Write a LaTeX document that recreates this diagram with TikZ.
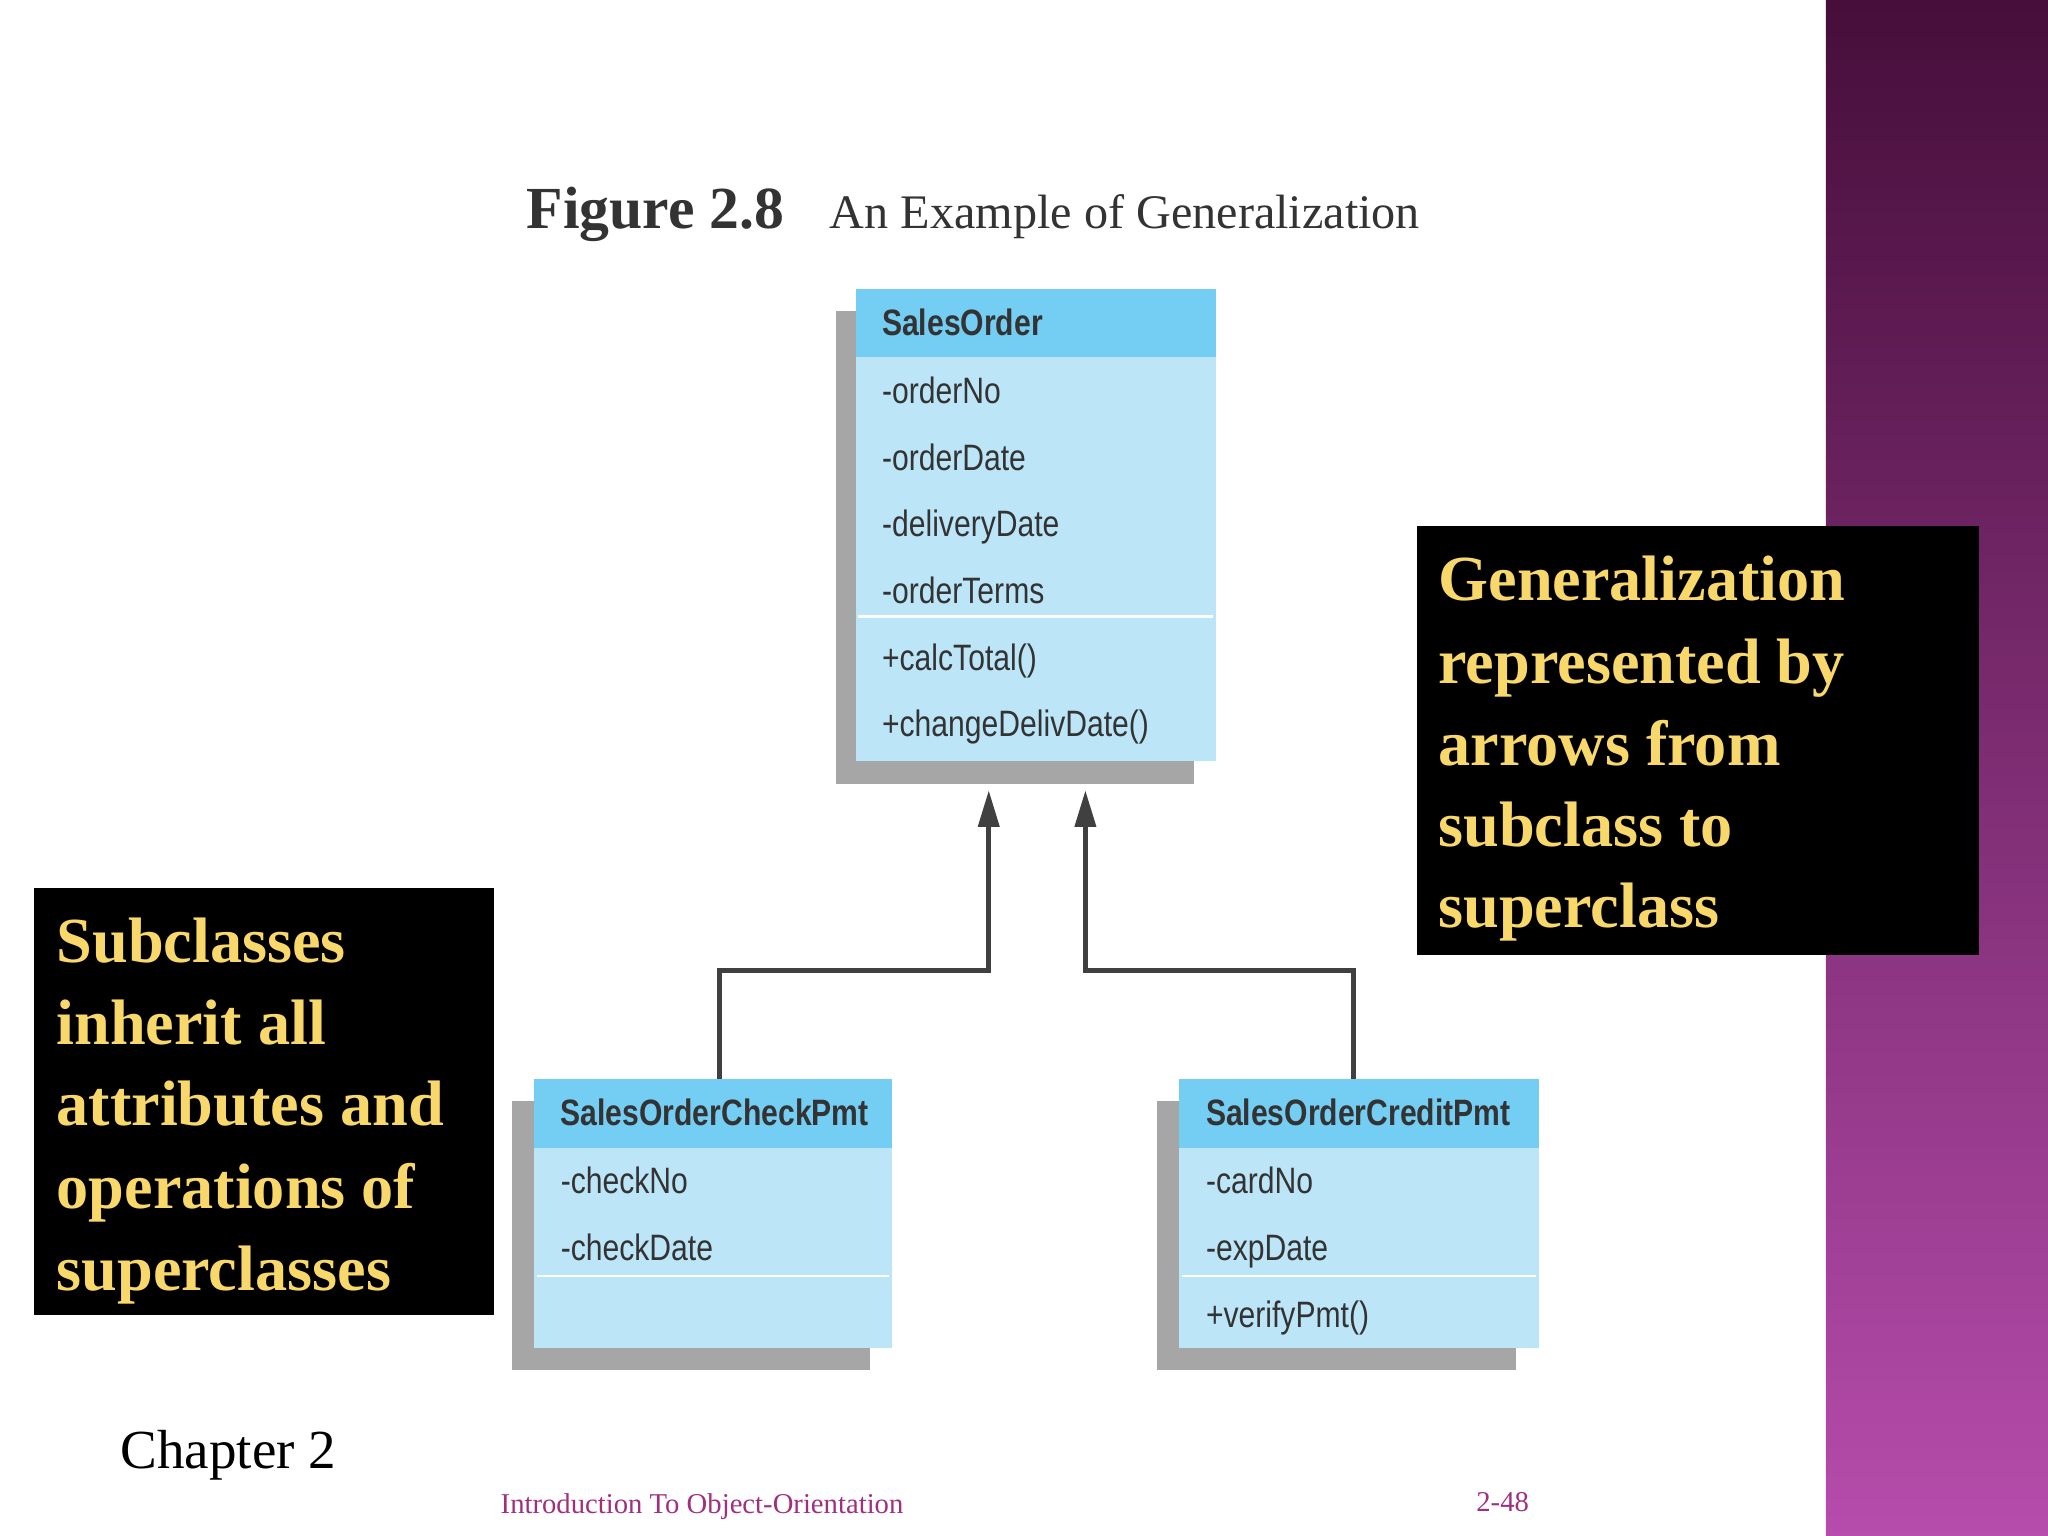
\documentclass[tikz,border=0pt]{standalone}
\usepackage{fontspec}
\setmainfont{Liberation Serif}
\newfontfamily\cond[FakeStretch=0.82]{Liberation Sans}
\usetikzlibrary{arrows.meta}
\definecolor{hdr}{HTML}{74CDF2}
\definecolor{bdy}{HTML}{BCE6F8}
\definecolor{yel}{HTML}{F8D86A}
\definecolor{pur}{HTML}{A0307F}
\tikzset{
 txt/.style={anchor=base west,inner sep=0pt,font=\cond\fontsize{16}{18}\selectfont,text=black!80},
 htxt/.style={txt,font=\cond\bfseries\fontsize{16}{18}\selectfont},
 ytxt/.style={anchor=base west,inner sep=0pt,font=\bfseries\fontsize{28}{30}\selectfont,text=yel},
 conn/.style={line width=2.2pt,black!75},
 tip/.style={-{Triangle[length=16pt,width=9pt]}}
}
\begin{document}
\begin{tikzpicture}[x=0.02cm,y=-0.02cm]
\useasboundingbox (0,0) rectangle (1568,1176);
\fill[white] (0,0) rectangle (1568,1176);
\shade[top color={rgb,255:red,70;green,14;blue,58},bottom color={rgb,255:red,182;green,76;blue,172}] (1398,0) rectangle (1568,1176);
% title
\node[anchor=base west,inner sep=0pt,font=\bfseries\fontsize{26}{28}\selectfont,text=black!80] (t1) at (403,175) {Figure 2.8};
\node[anchor=base west,inner sep=0pt,font=\fontsize{21}{24}\selectfont,text=black!80] (t2) at (635,175) {An Example of Generalization};
% SalesOrder
\fill[black!35] (640,238) rectangle (914,600);
\fill[bdy] (655,221) rectangle (931,583);
\fill[hdr] (655,221) rectangle (931,273);
\draw[white,line width=1pt] (657,472) -- (929,472);
\coordinate (so) at (655,221);
\node[htxt] (soh) at (675,257) {SalesOrder};
\node[txt] (a1) at (675,309) {-orderNo};
\node[txt] (a2) at (675,360) {-orderDate};
\node[txt] (a3) at (675,411) {-deliveryDate};
\node[txt] (a4) at (675,462) {-orderTerms};
\node[txt] (o1) at (675,513) {+calcTotal()};
\node[txt] (o2) at (675,564) {+changeDelivDate()};
% CheckPmt
\fill[black!35] (392,843) rectangle (666,1049);
\fill[bdy] (409,826) rectangle (683,1032);
\fill[hdr] (409,826) rectangle (683,879);
\draw[white,line width=1pt] (411,977) -- (681,977);
\node[htxt] (ch) at (429,862) {SalesOrderCheckPmt};
\node[txt] (c1) at (429,914) {-checkNo};
\node[txt] (c2) at (429,965) {-checkDate};
% CreditPmt
\fill[black!35] (886,843) rectangle (1161,1049);
\fill[bdy] (903,826) rectangle (1178,1032);
\fill[hdr] (903,826) rectangle (1178,879);
\draw[white,line width=1pt] (905,977) -- (1176,977);
\node[htxt] (crh) at (923,862) {SalesOrderCreditPmt};
\node[txt] (r1) at (923,914) {-cardNo};
\node[txt] (r2) at (923,965) {-expDate};
\node[txt] (r3) at (923,1016) {+verifyPmt()};
% connectors
\coordinate (sb1) at (757,605); \coordinate (sb2) at (831,605);
\coordinate (ct) at (551,826); \coordinate (rt) at (1036,826);
\draw[conn,tip] (ct) |- (757,743) -- (sb1);
\draw[conn,tip] (rt) |- (831,743) -- (sb2);
% callouts
\fill[black] (26,680) rectangle (378,1007);
\node[ytxt] (l1) at (43,737) {Subclasses};
\node[ytxt] (l2) at (43,800) {inherit all};
\node[ytxt] (l3) at (43,862) {attributes and};
\node[ytxt] (l4) at (43,925) {operations of};
\node[ytxt] (l5) at (43,988) {superclasses};
\fill[black] (1085,403) rectangle (1515,731);
\node[ytxt] (g1) at (1101,460) {Generalization};
\node[ytxt] (g2) at (1101,523) {represented by};
\node[ytxt] (g3) at (1101,586) {arrows from};
\node[ytxt] (g4) at (1101,648) {subclass to};
\node[ytxt] (g5) at (1101,710) {superclass};
% footer
\node[anchor=base west,inner sep=0pt,font=\fontsize{24}{26}\selectfont] (chap) at (92,1124) {Chapter 2};
\node[anchor=base west,inner sep=0pt,font=\fontsize{12.5}{14}\selectfont,text=pur] (f1) at (383,1159) {Introduction To Object-Orientation};
\node[anchor=base west,inner sep=0pt,font=\fontsize{12.5}{14}\selectfont,text=pur] (f2) at (1130,1157) {2-48};
\end{tikzpicture}
\end{document}
